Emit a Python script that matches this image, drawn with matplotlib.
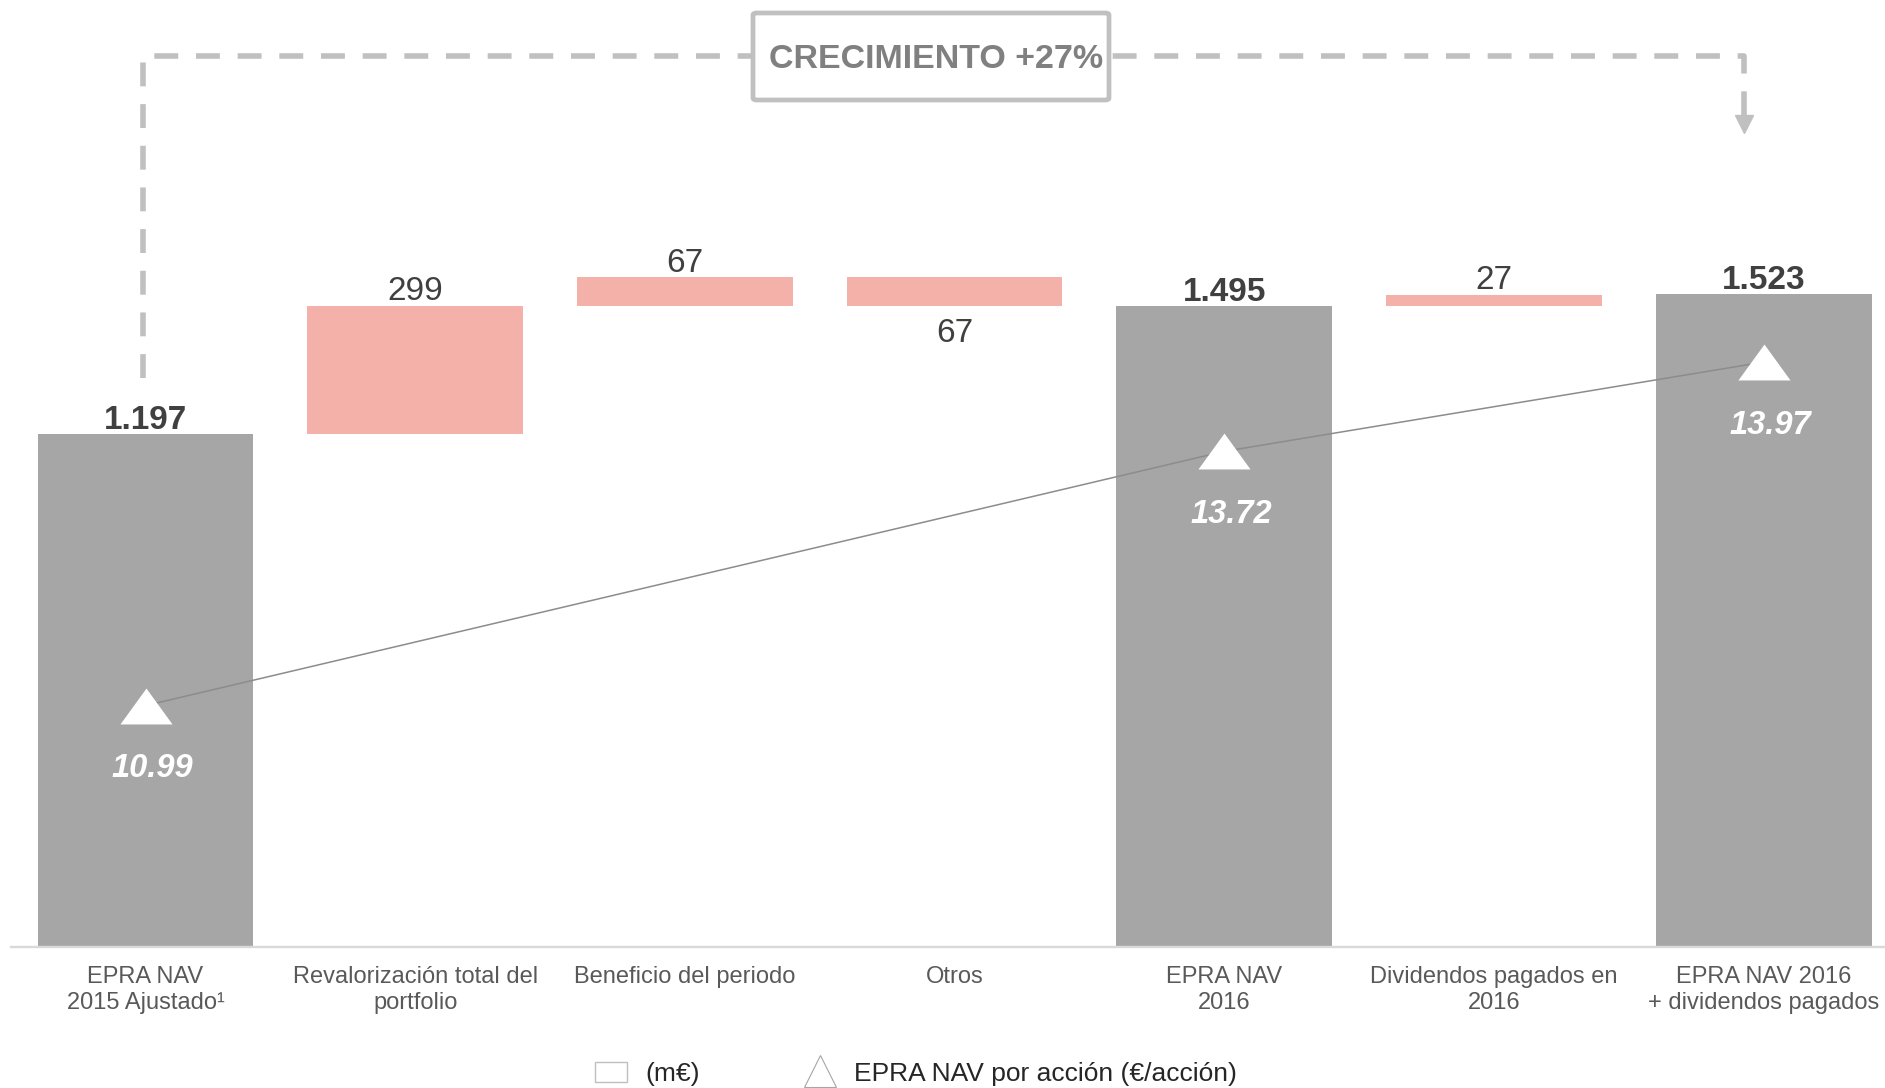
import numpy as np
import matplotlib
matplotlib.use("Agg")
import matplotlib.pyplot as plt
from matplotlib.patches import Patch, FancyBboxPatch
from matplotlib.lines import Line2D

plt.rcParams['font.family'] = ['Liberation Sans', 'DejaVu Sans']

# --- data -------------------------------------------------------------------
categories = [
    "EPRA NAV\n2015 Ajustado\u00b9",
    "Revalorización total del\nportfolio",
    "Beneficio del periodo",
    "Otros",
    "EPRA NAV\n2016",
    "Dividendos pagados en\n2016",
    "EPRA NAV 2016\n+ dividendos pagados",
]
values = [1197, 299, 67, -67, 1495, 27, 1523]          # m€
is_total = [True, False, False, False, True, False, True]

nav_pos = [0, 4, 6]                                     # bars carrying a per-share marker
nav_per_share = [10.99, 13.72, 13.97]                   # €/acción

growth_label = "CRECIMIENTO +27%"

GREY = "#a6a6a6"
PINK = "#f3b1aa"
LABEL = "#404040"
LIGHT = "#c0c0c0"


def fmt(v):
    return f"{v:,}".replace(",", ".")


# waterfall geometry
bottoms, heights = [], []
running = 0
for v, tot in zip(values, is_total):
    if tot:
        bottoms.append(0)
        heights.append(v)
        running = v
    else:
        bottoms.append(running + min(v, 0))
        heights.append(abs(v))
        running += v

W, H = 1885, 1088
fig = plt.figure(figsize=(W / 100, H / 100), dpi=100)
ax_left = 10.7 / W
ax = fig.add_axes([ax_left, 141 / H, 1 - ax_left, 947 / H])
ax.set_xlim(-0.5, 6.45)
ax.set_ylim(0, 2210)

x = np.arange(len(values))
colors = [GREY if t else PINK for t in is_total]
ax.bar(x, heights, bottom=bottoms, width=0.8, color=colors, zorder=2)

for i, v in enumerate(values):
    weight = "bold" if is_total[i] else "normal"
    if v >= 0:
        ax.annotate(fmt(abs(v)), (i, bottoms[i] + heights[i]), xytext=(0, 4),
                    textcoords="offset points", ha="center", va="baseline",
                    fontsize=24, color=LABEL, fontweight=weight)
    else:
        ax.annotate(fmt(abs(v)), (i, bottoms[i]), xytext=(0, -9),
                    textcoords="offset points", ha="center", va="top",
                    fontsize=24, color=LABEL, fontweight=weight)

ax.set_xticks(x)
ax.set_xticklabels(categories, fontsize=17, color="#595959", linespacing=1.25)
ax.tick_params(axis="x", length=0, pad=13.5)
ax.set_yticks([])
for s in ("top", "right", "left"):
    ax.spines[s].set_visible(False)
ax.spines["bottom"].set_color("#d9d9d9")
ax.spines["bottom"].set_linewidth(1.7)

# growth connector from the 2015 bar to the final bar
path_x = [-0.01, -0.01, 5.927, 5.927]
path_y = [1327, 2079, 2079, 1941]
ax.plot(path_x, path_y, color=LIGHT, lw=4, dashes=(4.3, 3.2),
        solid_joinstyle="round", dash_joinstyle="round", clip_on=False, zorder=1)
ax.plot([5.927], [1921.5], marker="v", ms=13, color=LIGHT, ls="none",
        clip_on=False, zorder=1)

box = FancyBboxPatch((753 / W, 1 - 100 / H), 356 / W, 87 / H,
                     boxstyle="round,pad=0,rounding_size=0.002",
                     transform=fig.transFigure, facecolor="white",
                     edgecolor=LIGHT, linewidth=3.4, zorder=3)
fig.add_artist(box)
fig.text(936 / W, 1 - 68.5 / H, growth_label, ha="center", va="baseline",
         fontsize=24.5, fontweight="bold", color="#808080", zorder=4)

# per-share axis, stretched towards the top so the markers sit inside the bars
k = 1.16
ax2 = fig.add_axes([ax_left, (H - 715) / H, 1 - ax_left, 415 / H], sharex=ax)
ax2.set_yscale("function", functions=(lambda v: np.exp(k * (v - 10)),
                                      lambda t: np.log(np.clip(t, 1e-12, None)) / k + 10))
ax2.set_ylim(9.415, 14.109)
ax2.axis("off")
ax2.patch.set_visible(False)

ax2.plot(nav_pos, nav_per_share, color="#8c8c8c", lw=1.1, clip_on=False, zorder=2)
tri = [(-1, -0.69), (1, -0.69), (0, 0.69)]
ax2.plot(nav_pos, nav_per_share, ls="none", marker=tri, ms=37.5,
         mfc="white", mec="none", clip_on=False, zorder=3)
for p, v in zip(nav_pos, nav_per_share):
    ax2.annotate(f"{v:.2f}", (p, v), xytext=(5, -51.5), textcoords="offset points",
                 ha="center", va="baseline", fontsize=23.5, fontweight="bold",
                 fontstyle="italic", color="white", annotation_clip=False)

handles = [
    Patch(facecolor="white", edgecolor="#bfbfbf", linewidth=1),
    Line2D([], [], ls="none", marker="^", ms=23, mfc="white", mec="#a6a6a6", mew=0.8),
]
fig.legend(handles, ["(m€)", "EPRA NAV por acción (€/acción)"], loc="center",
           bbox_to_anchor=(0.486, 0.013), ncol=2, frameon=False, fontsize=19,
           handlelength=1.21, handleheight=0.83, handletextpad=0.68,
           columnspacing=3.98, labelcolor="#262626")

fig.savefig("out.png", dpi=100, facecolor="white")
